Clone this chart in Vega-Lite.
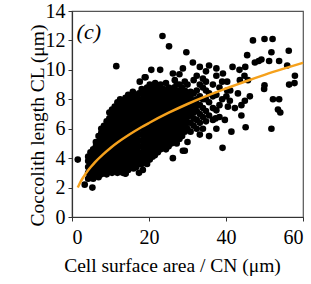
{
"$schema":"https://vega.github.io/schema/vega-lite/v6.json",
"width":231,"height":206,"autosize":"none",
"padding":{"left":72,"top":11,"right":8,"bottom":67},
"config":{"view":{"stroke":"#555","strokeWidth":1.2},
"font":"Liberation Serif",
"axis":{"labelFont":"Liberation Serif","titleFont":"Liberation Serif","labelFontSize":20,"titleFontSize":19.5,"titleFontWeight":"normal","labelColor":"#000","titleColor":"#000","domainColor":"#333","tickColor":"#333","tickSize":4,"grid":false,"domainWidth":1.2,"labelOverlap":false}},
"datasets":{
"pts":[
{"x":1.5,"y":3.9},{"x":3.3,"y":2.2},{"x":5.3,"y":2.0},
{"x":4.2,"y":2.6},{"x":4.2,"y":3.0},{"x":4.2,"y":3.4},{"x":4.2,"y":3.8},{"x":4.2,"y":4.1},
{"x":4.8,"y":2.8},{"x":4.8,"y":3.2},{"x":4.8,"y":3.6},{"x":4.8,"y":4.0},{"x":4.8,"y":4.4},
{"x":5.5,"y":2.6},{"x":5.5,"y":3.0},{"x":5.5,"y":3.4},{"x":5.5,"y":3.8},{"x":5.5,"y":4.2},{"x":5.5,"y":4.6},
{"x":6.2,"y":2.8},{"x":6.2,"y":3.2},{"x":6.2,"y":3.6},{"x":6.2,"y":4.0},{"x":6.2,"y":4.4},{"x":6.2,"y":4.8},{"x":6.2,"y":5.1},
{"x":6.9,"y":2.7},{"x":6.9,"y":3.1},{"x":6.9,"y":3.5},{"x":6.9,"y":3.9},{"x":6.9,"y":4.3},{"x":6.9,"y":4.7},{"x":6.9,"y":5.1},{"x":6.9,"y":5.5},
{"x":7.6,"y":2.9},{"x":7.6,"y":3.3},{"x":7.6,"y":3.7},{"x":7.6,"y":4.1},{"x":7.6,"y":4.5},{"x":7.6,"y":4.9},{"x":7.6,"y":5.3},{"x":7.6,"y":5.7},{"x":7.6,"y":6.0},
{"x":8.3,"y":3.0},{"x":8.3,"y":3.4},{"x":8.3,"y":3.8},{"x":8.3,"y":4.2},{"x":8.3,"y":4.6},{"x":8.3,"y":5.0},{"x":8.3,"y":5.4},{"x":8.3,"y":5.8},{"x":8.3,"y":6.2},
{"x":9.0,"y":2.9},{"x":9.0,"y":3.3},{"x":9.0,"y":3.7},{"x":9.0,"y":4.1},{"x":9.0,"y":4.5},{"x":9.0,"y":4.9},{"x":9.0,"y":5.3},{"x":9.0,"y":5.7},{"x":9.0,"y":6.1},{"x":9.0,"y":6.5},
{"x":9.7,"y":3.1},{"x":9.7,"y":3.5},{"x":9.7,"y":3.9},{"x":9.7,"y":4.3},{"x":9.7,"y":4.7},{"x":9.7,"y":5.1},{"x":9.7,"y":5.5},{"x":9.7,"y":5.9},{"x":9.7,"y":6.3},{"x":9.7,"y":6.7},{"x":9.7,"y":7.1},
{"x":10.4,"y":3.0},{"x":10.4,"y":3.4},{"x":10.4,"y":3.8},{"x":10.4,"y":4.2},{"x":10.4,"y":4.6},{"x":10.4,"y":5.0},{"x":10.4,"y":5.4},{"x":10.4,"y":5.8},{"x":10.4,"y":6.2},{"x":10.4,"y":6.6},{"x":10.4,"y":7.0},{"x":10.4,"y":7.3},
{"x":11.1,"y":3.2},{"x":11.1,"y":3.6},{"x":11.1,"y":4.0},{"x":11.1,"y":4.4},{"x":11.1,"y":4.8},{"x":11.1,"y":5.2},{"x":11.1,"y":5.6},{"x":11.1,"y":6.0},{"x":11.1,"y":6.4},{"x":11.1,"y":6.8},{"x":11.1,"y":7.2},{"x":11.1,"y":7.5},
{"x":11.8,"y":3.0},{"x":11.8,"y":3.4},{"x":11.8,"y":3.8},{"x":11.8,"y":4.2},{"x":11.8,"y":4.6},{"x":11.8,"y":5.0},{"x":11.8,"y":5.4},{"x":11.8,"y":5.8},{"x":11.8,"y":6.2},{"x":11.8,"y":6.6},{"x":11.8,"y":7.0},{"x":11.8,"y":7.4},{"x":11.8,"y":7.8},
{"x":12.5,"y":3.2},{"x":12.5,"y":3.6},{"x":12.5,"y":4.0},{"x":12.5,"y":4.4},{"x":12.5,"y":4.8},{"x":12.5,"y":5.2},{"x":12.5,"y":5.6},{"x":12.5,"y":6.0},{"x":12.5,"y":6.4},{"x":12.5,"y":6.8},{"x":12.5,"y":7.2},{"x":12.5,"y":7.6},{"x":12.5,"y":8.0},
{"x":13.2,"y":3.0},{"x":13.2,"y":3.4},{"x":13.2,"y":3.8},{"x":13.2,"y":4.2},{"x":13.2,"y":4.6},{"x":13.2,"y":5.0},{"x":13.2,"y":5.4},{"x":13.2,"y":5.8},{"x":13.2,"y":6.2},{"x":13.2,"y":6.6},{"x":13.2,"y":7.0},{"x":13.2,"y":7.4},{"x":13.2,"y":7.8},
{"x":13.9,"y":2.95},{"x":13.9,"y":3.3},{"x":13.9,"y":3.7},{"x":13.9,"y":4.1},{"x":13.9,"y":4.5},{"x":13.9,"y":4.9},{"x":13.9,"y":5.3},{"x":13.9,"y":5.7},{"x":13.9,"y":6.1},{"x":13.9,"y":6.5},{"x":13.9,"y":6.9},{"x":13.9,"y":7.3},{"x":13.9,"y":7.7},{"x":13.9,"y":8.1},
{"x":14.6,"y":3.2},{"x":14.6,"y":3.6},{"x":14.6,"y":4.0},{"x":14.6,"y":4.4},{"x":14.6,"y":4.8},{"x":14.6,"y":5.2},{"x":14.6,"y":5.6},{"x":14.6,"y":6.0},{"x":14.6,"y":6.4},{"x":14.6,"y":6.8},{"x":14.6,"y":7.2},{"x":14.6,"y":7.6},{"x":14.6,"y":8.0},{"x":14.6,"y":8.3},
{"x":15.3,"y":3.4},{"x":15.3,"y":3.8},{"x":15.3,"y":4.2},{"x":15.3,"y":4.6},{"x":15.3,"y":5.0},{"x":15.3,"y":5.4},{"x":15.3,"y":5.8},{"x":15.3,"y":6.2},{"x":15.3,"y":6.6},{"x":15.3,"y":7.0},{"x":15.3,"y":7.4},{"x":15.3,"y":7.8},{"x":15.3,"y":8.2},
{"x":16.0,"y":3.3},{"x":16.0,"y":3.7},{"x":16.0,"y":4.1},{"x":16.0,"y":4.5},{"x":16.0,"y":4.9},{"x":16.0,"y":5.3},{"x":16.0,"y":5.7},{"x":16.0,"y":6.1},{"x":16.0,"y":6.5},{"x":16.0,"y":6.9},{"x":16.0,"y":7.3},{"x":16.0,"y":7.7},{"x":16.0,"y":8.1},{"x":15.8,"y":8.5},
{"x":16.7,"y":3.4},{"x":16.7,"y":3.8},{"x":16.7,"y":4.2},{"x":16.7,"y":4.6},{"x":16.7,"y":5.0},{"x":16.7,"y":5.4},{"x":16.7,"y":5.8},{"x":16.7,"y":6.2},{"x":16.7,"y":6.6},{"x":16.7,"y":7.0},{"x":16.7,"y":7.4},{"x":16.7,"y":7.8},{"x":16.7,"y":8.2},
{"x":17.4,"y":3.0},{"x":17.4,"y":3.6},{"x":17.4,"y":4.0},{"x":17.4,"y":4.4},{"x":17.4,"y":4.8},{"x":17.4,"y":5.2},{"x":17.4,"y":5.6},{"x":17.4,"y":6.0},{"x":17.4,"y":6.4},{"x":17.4,"y":6.8},{"x":17.4,"y":7.2},{"x":17.4,"y":7.6},{"x":17.4,"y":8.0},{"x":17.4,"y":8.4},{"x":17.6,"y":9.2},
{"x":18.1,"y":3.6},{"x":18.1,"y":4.0},{"x":18.1,"y":4.4},{"x":18.1,"y":4.8},{"x":18.1,"y":5.2},{"x":18.1,"y":5.6},{"x":18.1,"y":6.0},{"x":18.1,"y":6.4},{"x":18.1,"y":6.8},{"x":18.1,"y":7.2},{"x":18.1,"y":7.6},{"x":18.1,"y":8.0},{"x":18.1,"y":8.4},{"x":18.1,"y":8.7},{"x":18.4,"y":3.2},
{"x":18.8,"y":3.7},{"x":18.8,"y":4.1},{"x":18.8,"y":4.5},{"x":18.8,"y":4.9},{"x":18.8,"y":5.3},{"x":18.8,"y":5.7},{"x":18.8,"y":6.1},{"x":18.8,"y":6.5},{"x":18.8,"y":6.9},{"x":18.8,"y":7.3},{"x":18.8,"y":7.7},{"x":18.8,"y":8.1},{"x":18.8,"y":8.5},{"x":18.9,"y":9.5},
{"x":19.5,"y":3.6},{"x":19.5,"y":4.0},{"x":19.5,"y":4.4},{"x":19.5,"y":4.8},{"x":19.5,"y":5.2},{"x":19.5,"y":5.6},{"x":19.5,"y":6.0},{"x":19.5,"y":6.4},{"x":19.5,"y":6.8},{"x":19.5,"y":7.2},{"x":19.5,"y":7.6},{"x":19.5,"y":8.0},{"x":19.5,"y":8.4},{"x":19.5,"y":8.8},
{"x":20.2,"y":3.9},{"x":20.2,"y":4.3},{"x":20.2,"y":4.7},{"x":20.2,"y":5.1},{"x":20.2,"y":5.5},{"x":20.2,"y":5.9},{"x":20.2,"y":6.3},{"x":20.2,"y":6.7},{"x":20.2,"y":7.1},{"x":20.2,"y":7.5},{"x":20.2,"y":7.9},{"x":20.2,"y":8.3},{"x":20.2,"y":8.7},{"x":20.2,"y":9.0},{"x":20.6,"y":10.0},
{"x":20.9,"y":4.1},{"x":20.9,"y":4.5},{"x":20.9,"y":4.9},{"x":20.9,"y":5.3},{"x":20.9,"y":5.7},{"x":20.9,"y":6.1},{"x":20.9,"y":6.5},{"x":20.9,"y":6.9},{"x":20.9,"y":7.3},{"x":20.9,"y":7.7},{"x":20.9,"y":8.1},{"x":20.9,"y":8.5},{"x":20.9,"y":8.9},
{"x":21.6,"y":4.3},{"x":21.6,"y":4.7},{"x":21.6,"y":5.1},{"x":21.6,"y":5.5},{"x":21.6,"y":5.9},{"x":21.6,"y":6.3},{"x":21.6,"y":6.7},{"x":21.6,"y":7.1},{"x":21.6,"y":7.5},{"x":21.6,"y":7.9},{"x":21.6,"y":8.3},{"x":21.6,"y":8.7},{"x":21.6,"y":9.1},{"x":21.5,"y":4.2},
{"x":22.3,"y":4.4},{"x":22.3,"y":4.8},{"x":22.3,"y":5.2},{"x":22.3,"y":5.6},{"x":22.3,"y":6.0},{"x":22.3,"y":6.4},{"x":22.3,"y":6.8},{"x":22.3,"y":7.2},{"x":22.3,"y":7.6},{"x":22.3,"y":8.0},{"x":22.3,"y":8.4},{"x":22.3,"y":8.8},{"x":22.9,"y":10.0},
{"x":23.0,"y":4.6},{"x":23.0,"y":5.0},{"x":23.0,"y":5.4},{"x":23.0,"y":5.8},{"x":23.0,"y":6.2},{"x":23.0,"y":6.6},{"x":23.0,"y":7.0},{"x":23.0,"y":7.4},{"x":23.0,"y":7.8},{"x":23.0,"y":8.2},{"x":23.0,"y":8.6},{"x":23.0,"y":9.0},{"x":23.5,"y":12.3},
{"x":23.7,"y":4.7},{"x":23.7,"y":5.1},{"x":23.7,"y":5.5},{"x":23.7,"y":5.9},{"x":23.7,"y":6.3},{"x":23.7,"y":6.7},{"x":23.7,"y":7.1},{"x":23.7,"y":7.5},{"x":23.7,"y":7.9},{"x":23.7,"y":8.3},{"x":23.7,"y":8.7},
{"x":24.4,"y":4.6},{"x":24.4,"y":5.0},{"x":24.4,"y":5.4},{"x":24.4,"y":5.8},{"x":24.4,"y":6.2},{"x":24.4,"y":6.6},{"x":24.4,"y":7.0},{"x":24.4,"y":7.4},{"x":24.4,"y":7.8},{"x":24.4,"y":8.2},{"x":24.4,"y":8.6},{"x":24.4,"y":9.1},
{"x":25.1,"y":4.8},{"x":25.1,"y":5.2},{"x":25.1,"y":5.6},{"x":25.1,"y":6.0},{"x":25.1,"y":6.4},{"x":25.1,"y":6.8},{"x":25.1,"y":7.2},{"x":25.1,"y":7.6},{"x":25.1,"y":8.0},{"x":25.1,"y":8.4},{"x":25.1,"y":8.8},{"x":25.2,"y":11.6},
{"x":26.2,"y":4.0},{"x":25.8,"y":5.0},{"x":25.8,"y":5.4},{"x":25.8,"y":5.8},{"x":25.8,"y":6.2},{"x":25.8,"y":6.6},{"x":25.8,"y":7.0},{"x":25.8,"y":7.4},{"x":25.8,"y":7.8},{"x":25.8,"y":8.2},{"x":25.8,"y":8.6},{"x":26.2,"y":9.75},
{"x":26.5,"y":5.2},{"x":26.5,"y":5.6},{"x":26.5,"y":6.0},{"x":26.5,"y":6.4},{"x":26.5,"y":6.8},{"x":26.5,"y":7.2},{"x":26.5,"y":7.6},{"x":26.5,"y":8.0},{"x":26.5,"y":8.4},{"x":26.5,"y":8.8},{"x":26.7,"y":9.3},
{"x":27.2,"y":5.0},{"x":27.2,"y":5.4},{"x":27.2,"y":5.8},{"x":27.2,"y":6.2},{"x":27.2,"y":6.6},{"x":27.2,"y":7.0},{"x":27.2,"y":7.4},{"x":27.2,"y":7.8},{"x":27.2,"y":8.2},{"x":27.2,"y":8.6},{"x":27.2,"y":9.0},
{"x":28.8,"y":4.5},{"x":27.9,"y":5.3},{"x":27.9,"y":5.7},{"x":27.9,"y":6.1},{"x":27.9,"y":6.5},{"x":27.9,"y":6.9},{"x":27.9,"y":7.3},{"x":27.9,"y":7.7},{"x":27.9,"y":8.1},{"x":27.9,"y":8.5},{"x":27.9,"y":9.0},{"x":27.9,"y":9.7},
{"x":28.6,"y":5.5},{"x":28.6,"y":5.9},{"x":28.6,"y":6.3},{"x":28.6,"y":6.7},{"x":28.6,"y":7.1},{"x":28.6,"y":7.5},{"x":28.6,"y":7.9},{"x":28.6,"y":8.3},{"x":28.6,"y":8.8},{"x":28.8,"y":10.1},
{"x":29.3,"y":4.5},{"x":29.3,"y":5.8},{"x":29.3,"y":6.2},{"x":29.3,"y":6.6},{"x":29.3,"y":7.0},{"x":29.3,"y":7.4},{"x":29.3,"y":7.8},{"x":29.3,"y":8.2},{"x":29.3,"y":8.6},{"x":29.3,"y":9.2},{"x":29.7,"y":11.2},
{"x":30.0,"y":5.1},{"x":30.0,"y":6.0},{"x":30.0,"y":6.4},{"x":30.0,"y":6.8},{"x":30.0,"y":7.2},{"x":30.0,"y":7.6},{"x":30.0,"y":8.0},{"x":30.0,"y":8.4},{"x":30.0,"y":9.0},
{"x":30.8,"y":5.8},{"x":30.8,"y":6.4},{"x":30.8,"y":6.9},{"x":30.8,"y":7.3},{"x":30.8,"y":7.7},{"x":30.8,"y":8.1},{"x":30.8,"y":8.5},
{"x":31.6,"y":6.2},{"x":31.6,"y":6.7},{"x":31.6,"y":7.1},{"x":31.6,"y":7.5},{"x":31.6,"y":7.9},{"x":31.6,"y":8.4},{"x":31.6,"y":9.3},{"x":31.4,"y":10.5},
{"x":32.4,"y":6.0},{"x":32.4,"y":6.6},{"x":32.4,"y":7.2},{"x":32.4,"y":7.6},{"x":32.4,"y":8.0},{"x":32.4,"y":8.6},{"x":32.4,"y":9.6},
{"x":33.2,"y":5.6},{"x":33.2,"y":6.4},{"x":33.2,"y":7.0},{"x":33.2,"y":7.6},{"x":33.2,"y":8.2},{"x":33.2,"y":9.0},{"x":33.2,"y":10.2},
{"x":34.0,"y":6.0},{"x":34.0,"y":6.8},{"x":34.0,"y":7.4},{"x":34.0,"y":8.0},{"x":34.0,"y":8.8},{"x":34.0,"y":9.4},
{"x":34.8,"y":6.5},{"x":34.8,"y":7.2},{"x":34.8,"y":8.0},{"x":34.8,"y":8.6},{"x":34.8,"y":9.2},{"x":34.8,"y":9.9},
{"x":35.6,"y":5.5},{"x":35.6,"y":6.9},{"x":35.6,"y":7.8},{"x":35.6,"y":8.4},{"x":35.6,"y":10.3},
{"x":36.6,"y":6.6},{"x":36.6,"y":7.4},{"x":36.6,"y":8.2},{"x":36.6,"y":9.0},{"x":37.5,"y":10.1},
{"x":37.5,"y":6.0},{"x":37.3,"y":6.7},{"x":37.5,"y":7.25},{"x":37.5,"y":8.3},{"x":37.5,"y":9.6},
{"x":38.3,"y":6.8},{"x":38.3,"y":7.6},{"x":38.3,"y":8.8},
{"x":39.1,"y":4.7},{"x":39.7,"y":6.6},{"x":39.0,"y":8.0},{"x":39.0,"y":9.2},{"x":39.2,"y":9.75},
{"x":40.1,"y":8.2},{"x":40.3,"y":8.6},{"x":40.5,"y":7.5},{"x":40.3,"y":9.2},
{"x":41.4,"y":5.8},{"x":41.0,"y":7.9},{"x":41.1,"y":8.6},{"x":41.7,"y":10.2},
{"x":42.3,"y":7.4},{"x":43.1,"y":8.4},{"x":43.5,"y":10.0},{"x":43.6,"y":9.3},
{"x":44.0,"y":6.9},{"x":44.0,"y":7.6},{"x":44.9,"y":7.9},{"x":45.0,"y":10.2},{"x":44.8,"y":9.6},
{"x":45.1,"y":6.1},{"x":45.5,"y":11.0},{"x":45.7,"y":9.3},{"x":46.2,"y":8.2},
{"x":47.0,"y":12.0},{"x":47.5,"y":10.5},{"x":48.5,"y":10.6},{"x":49.2,"y":10.7},
{"x":49.9,"y":8.7},{"x":50.0,"y":12.1},{"x":50.0,"y":8.95},{"x":51.2,"y":10.6},{"x":51.8,"y":11.2},
{"x":51.8,"y":6.0},{"x":52.2,"y":8.0},{"x":52.1,"y":12.1},
{"x":53.5,"y":7.3},{"x":53.8,"y":8.0},{"x":53.8,"y":10.6},{"x":54.1,"y":7.1},
{"x":55.9,"y":10.3},{"x":56.3,"y":11.3},{"x":56.4,"y":9.0},{"x":57.8,"y":9.1},{"x":57.9,"y":9.6},
{"x":11.5,"y":10.25},{"x":19.1,"y":9.5},{"x":12.4,"y":7.8},{"x":13.9,"y":2.95}
],
"fit":[
{"x":1.5,"y":2.0},{"x":2,"y":2.28},{"x":3,"y":2.73},{"x":4,"y":3.11},{"x":5,"y":3.43},{"x":6,"y":3.73},{"x":8,"y":4.24},{"x":10,"y":4.69},{"x":12,"y":5.09},{"x":15,"y":5.62},{"x":18,"y":6.10},{"x":20,"y":6.39},{"x":25,"y":7.07},{"x":30,"y":7.68},{"x":35,"y":8.23},{"x":40,"y":8.73},{"x":45,"y":9.21},{"x":50,"y":9.66},{"x":55,"y":10.08},{"x":60,"y":10.48}
],
"lab":[{"x":1.2,"y":12.6,"t":"(c)"}]
},
"encoding":{
"x":{"field":"x","type":"quantitative","scale":{"domain":[0,60],"nice":false},"axis":{"values":[0,20,40,60],"title":"Cell surface area / CN (μm)","labelPadding":6,"titlePadding":9,"titleX":100,"labelOverlap":false}},
"y":{"field":"y","type":"quantitative","scale":{"domain":[0,14],"nice":false},"axis":{"values":[0,2,4,6,8,10,12,14],"tickCount":8,"title":"Coccolith length CL (μm)","labelPadding":3,"titlePadding":-2,"titleY":114,"labelOverlap":false,"labelFlush":false,"labelBound":false,"labelSeparation":0}}},
"layer":[
{"data":{"name":"pts"},"mark":{"type":"point","filled":true,"shape":"circle","size":44,"color":"#000","opacity":1}},
{"data":{"name":"fit"},"mark":{"type":"line","color":"#F5A11C","strokeWidth":2.5,"interpolate":"monotone"}},
{"data":{"name":"lab"},"mark":{"type":"text","font":"Liberation Serif","fontSize":22,"fontStyle":"italic","align":"left","baseline":"middle","color":"#000"},
"encoding":{"text":{"field":"t"}}}
]
}
